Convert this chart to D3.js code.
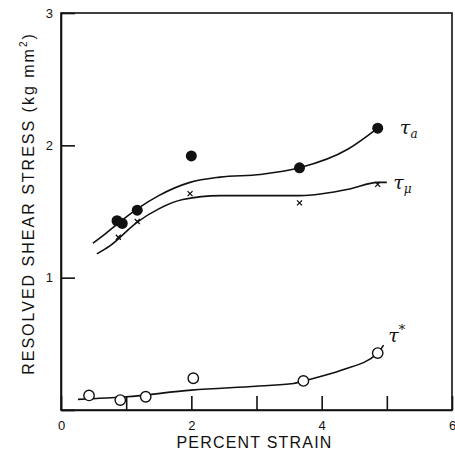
<!DOCTYPE html>
<html>
<head>
<meta charset="utf-8">
<script src="https://cdn.jsdelivr.net/npm/d3@7"></script>
<style>
  body { margin: 0; background: #fff; }
  svg { font-family: "Liberation Sans", Arial, sans-serif; }
  .axis path, .axis line { stroke: #111; stroke-width: 1.6; }
  .axis text { font-size: 13px; fill: #111; }
</style>
</head>
<body>
<div id="chart"></div>
<script>
// Size of the window
const width = 455;
const height = 459;
const margin = { top: 13, right: 3, bottom: 49, left: 61 };

// Measured points (percent strain, stress in kg/mm^2)
const tauAStrain = [0.86, 0.94, 1.17, 2.0, 3.66, 4.86];
const tauAStress = [1.43, 1.41, 1.51, 1.92, 1.83, 2.13];

const tauMuStrain = [0.88, 1.17, 1.98, 3.66, 4.86];
const tauMuStress = [1.32, 1.44, 1.65, 1.58, 1.72];

const tauStarStrain = [0.43, 0.91, 1.3, 2.03, 3.72, 4.86];
const tauStarStress = [0.11, 0.075, 0.10, 0.24, 0.22, 0.43];

// Hand-drawn fit curves
const tauACurveX = [0.49, 0.6, 0.9, 1.17, 1.5, 1.98, 2.44, 3.06, 3.66, 4.4, 4.86];
const tauACurveY = [1.26, 1.3, 1.42, 1.52, 1.62, 1.72, 1.76, 1.78, 1.83, 1.97, 2.13];

const tauMuCurveX = [0.55, 0.75, 1.17, 1.5, 1.87, 2.44, 3.06, 3.66, 4.43, 4.86, 5.0];
const tauMuCurveY = [1.18, 1.24, 1.42, 1.52, 1.59, 1.62, 1.62, 1.62, 1.67, 1.72, 1.72];

const tauStarCurveX = [0.26, 1.0, 2.0, 3.0, 3.57, 3.72, 4.3, 4.86, 4.95];
const tauStarCurveY = [0.08, 0.10, 0.15, 0.18, 0.20, 0.22, 0.30, 0.43, 0.49];

// Tick labels
const xTicks = [0, 1, 2, 3, 4, 5, 6];
const xTickLabels = ["0", "", "2", "", "4", "", "6"];
const yTicks = [0, 1, 2, 3];
const yTickLabels = ["", "1", "2", "3"];

const zip = (xs, ys) => xs.map((v, i) => ({ x: v, y: ys[i] }));

const x = d3.scaleLinear()
  .domain([0, 6])
  .range([margin.left, width - margin.right]);

const y = d3.scaleLinear()
  .domain([0, 3])
  .range([height - margin.bottom, margin.top]);

const svg = d3.select("#chart")
  .append("svg")
  .attr("width", width)
  .attr("height", height);

// Frame
svg.append("rect")
  .attr("x", x(0))
  .attr("y", y(3))
  .attr("width", x(6) - x(0))
  .attr("height", y(0) - y(3))
  .attr("fill", "none")
  .attr("stroke", "#111")
  .attr("stroke-width", 1.6);

// Axes with inward ticks
const xAxis = d3.axisBottom(x)
  .tickValues(xTicks)
  .tickSizeInner(-14)
  .tickSizeOuter(0)
  .tickPadding(8)
  .tickFormat((d, i) => xTickLabels[i]);

svg.append("g")
  .attr("class", "axis")
  .attr("transform", `translate(0, ${y(0)})`)
  .call(xAxis)
  .call(g => g.selectAll(".tick text").attr("dy", "0.9em"));

const yAxis = d3.axisLeft(y)
  .tickValues(yTicks)
  .tickSizeInner(-14)
  .tickSizeOuter(0)
  .tickPadding(8)
  .tickFormat((d, i) => yTickLabels[i]);

svg.append("g")
  .attr("class", "axis")
  .attr("transform", `translate(${x(0)}, 0)`)
  .call(yAxis);

// Axis titles
svg.append("text")
  .attr("x", (x(0) + x(6)) / 2 - 2)
  .attr("y", 448)
  .attr("text-anchor", "middle")
  .attr("font-size", 16)
  .attr("letter-spacing", 1.2)
  .attr("fill", "#111")
  .text("PERCENT STRAIN");

const yTitle = svg.append("text")
  .attr("transform", `translate(28, ${(y(0) + y(3)) / 2 - 8}) rotate(-90)`)
  .attr("text-anchor", "middle")
  .attr("dy", "0.35em")
  .attr("font-size", 16)
  .attr("letter-spacing", 2)
  .attr("fill", "#111");
yTitle.append("tspan").text("RESOLVED SHEAR STRESS (kg mm");
yTitle.append("tspan").attr("font-size", 10).attr("dy", "-0.7em").text("2");
yTitle.append("tspan").attr("dy", "0.45em").text(")");

// Curves
const line = d3.line()
  .x(d => x(d.x))
  .y(d => y(d.y))
  .curve(d3.curveMonotoneX);

[zip(tauACurveX, tauACurveY), zip(tauMuCurveX, tauMuCurveY), zip(tauStarCurveX, tauStarCurveY)]
  .forEach(pts => {
    svg.append("path")
      .datum(pts)
      .attr("d", line)
      .attr("fill", "none")
      .attr("stroke", "#111")
      .attr("stroke-width", 1.6);
  });

// tau_a: filled circles
svg.append("g")
  .selectAll("circle")
  .data(zip(tauAStrain, tauAStress))
  .join("circle")
  .attr("cx", d => x(d.x))
  .attr("cy", d => y(d.y))
  .attr("r", 5.5)
  .attr("fill", "#111");

// tau_mu: small crosses
svg.append("g")
  .selectAll("path")
  .data(zip(tauMuStrain, tauMuStress))
  .join("path")
  .attr("d", d => {
    const cx = x(d.x), cy = y(d.y) + 2, s = 2.5;
    return `M${cx - s},${cy - s}L${cx + s},${cy + s}M${cx + s},${cy - s}L${cx - s},${cy + s}`;
  })
  .attr("stroke", "#111")
  .attr("stroke-width", 1.3)
  .attr("fill", "none");

// tau*: open circles
svg.append("g")
  .selectAll("circle")
  .data(zip(tauStarStrain, tauStarStress))
  .join("circle")
  .attr("cx", d => x(d.x))
  .attr("cy", d => y(d.y))
  .attr("r", 5.2)
  .attr("fill", "#fff")
  .attr("stroke", "#111")
  .attr("stroke-width", 1.4);

// Curve labels
const labelFont = "'DejaVu Serif', serif";
function curveLabel(px, py, sub, sup) {
  const t = svg.append("text")
    .attr("x", px)
    .attr("y", py)
    .attr("font-family", labelFont)
    .attr("font-style", "italic")
    .attr("font-size", 19)
    .attr("fill", "#111");
  t.append("tspan").text("τ");
  if (sub) t.append("tspan").attr("font-size", 12).attr("dy", "0.3em").text(sub);
  if (sup) t.append("tspan").attr("font-size", 13).attr("dy", "-0.6em").text(sup);
}
curveLabel(x(5.2), y(2.13) + 6, "a", null);
curveLabel(x(5.1), y(1.72) + 7, "μ", null);
curveLabel(x(5.02), y(0.56) + 6, null, "*");
</script>
</body>
</html>
